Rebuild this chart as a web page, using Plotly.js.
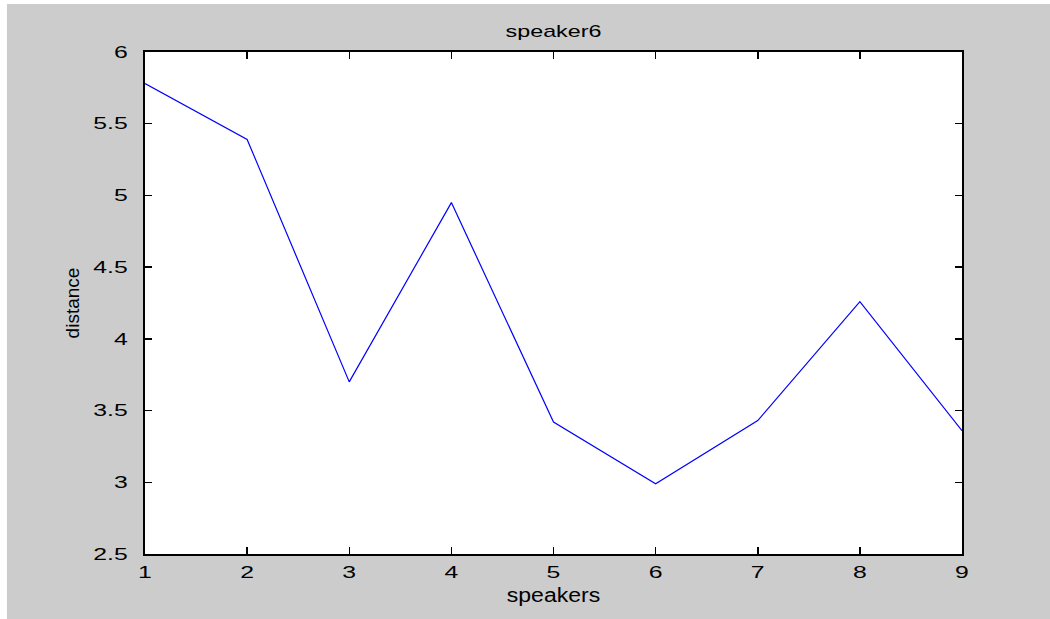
<!DOCTYPE html>
<html>
<head>
<meta charset="utf-8">
<script src="https://cdn.plot.ly/plotly-3.0.1.min.js"></script>
<style>
  html, body { margin: 0; padding: 0; background: #ffffff; }
  #chart { width: 1050px; height: 619px; }
</style>
</head>
<body>
<div id="chart"></div>
<script>
// Distance from speaker 6 to each speaker
const speakers = [1, 2, 3, 4, 5, 6, 7, 8, 9];
const distance = [5.78, 5.39, 3.70, 4.95, 3.42, 2.99, 3.43, 4.26, 3.36];

const yTicks = [2.5, 3, 3.5, 4, 4.5, 5, 5.5, 6];
const yTickText = ['2.5', '3', '3.5', '4', '4.5', '5', '5.5', '6'];

const FONT = 'Liberation Sans, Arial, sans-serif';
const tickFont = { family: FONT, size: 16.5, color: '#000000' };

const trace = {
  x: speakers,
  y: distance,
  type: 'scatter',
  mode: 'lines',
  line: { color: '#0000ff', width: 1.2 },
  hoverinfo: 'x+y'
};

const layout = {
  width: 1050,
  height: 619,
  paper_bgcolor: '#cccccc',
  plot_bgcolor: '#ffffff',
  margin: { l: 145, r: 88, t: 52, b: 65, pad: 0 },
  showlegend: false,
  title: {
    text: 'speaker6',
    font: { family: FONT, size: 17, color: '#000000' },
    x: 0.5, xref: 'paper', xanchor: 'center',
    y: 0.95, yanchor: 'middle', yref: 'container'
  },
  xaxis: {
    range: [1, 9],
    tickvals: speakers,
    ticktext: speakers.map(String),
    ticks: 'inside',
    ticklen: 7,
    tickwidth: 1.5,
    tickcolor: '#000000',
    showline: true,
    linecolor: '#000000',
    linewidth: 2,
    mirror: 'ticks',
    showgrid: false,
    zeroline: false,
    tickfont: tickFont,
    ticklabelstandoff: 2,
    title: {
      text: 'speakers',
      font: { family: FONT, size: 19.5, color: '#000000' },
      standoff: 9
    }
  },
  yaxis: {
    range: [2.5, 6],
    tickvals: yTicks,
    ticktext: yTickText,
    ticks: 'inside',
    ticklen: 7,
    tickwidth: 1.5,
    tickcolor: '#000000',
    showline: true,
    linecolor: '#000000',
    linewidth: 2,
    mirror: 'ticks',
    showgrid: false,
    zeroline: false,
    tickfont: tickFont,
    ticklabelstandoff: 12,
    title: {
      text: 'distance',
      font: { family: FONT, size: 19, color: '#000000' },
      standoff: 20
    }
  },
  shapes: [
    // thin white border along the top and left of the figure
    { type: 'rect', xref: 'paper', yref: 'paper', layer: 'above',
      x0: -0.2, x1: 1.2, y0: 1.0956, y1: 1.2,
      fillcolor: '#ffffff', line: { width: 0 } },
    { type: 'rect', xref: 'paper', yref: 'paper', layer: 'above',
      x0: -0.2, x1: -0.169, y0: -0.2, y1: 1.2,
      fillcolor: '#ffffff', line: { width: 0 } }
  ]
};

// widen horizontal labels to the broad letterforms of the figure font
function widen(selector, factor) {
  document.querySelectorAll(selector).forEach(function (t) {
    const w = t.getComputedTextLength();
    if (w > 0) {
      t.setAttribute('textLength', (w * factor).toFixed(1));
      t.setAttribute('lengthAdjust', 'spacingAndGlyphs');
    }
  });
}

Plotly.newPlot('chart', [trace], layout, { displayModeBar: false, staticPlot: true })
  .then(function () {
    widen('#chart .xtick text', 1.5);
    widen('#chart .ytick text', 1.5);
    widen('#chart .gtitle', 1.37);
    widen('#chart .xtitle', 1.18);
  });
</script>
</body>
</html>
